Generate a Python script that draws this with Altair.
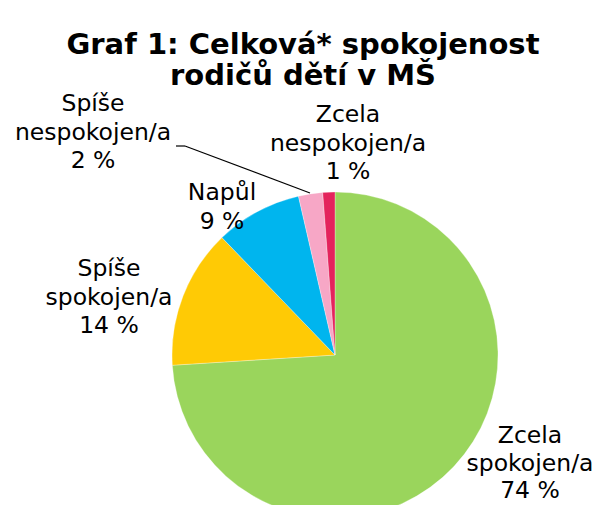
import altair as alt
import pandas as pd

# Data
kategorie = ["Zcela spokojen/a", "Spíše spokojen/a", "Napůl", "Spíše nespokojen/a", "Zcela nespokojen/a"]
podil = [74.0, 13.8, 8.6, 2.4, 1.2]
popisky_pct = ["74 %", "14 %", "9 %", "2 %", "1 %"]
barvy = ["#9AD55C", "#FFCA05", "#00B5EE", "#F7A7C6", "#E4235C"]

df = pd.DataFrame({"kategorie": kategorie, "podil": podil, "poradi": list(range(len(kategorie)))})

W, H = 589, 497
CX, CY, R = 327, 347, 163

pie = alt.Chart(df).mark_arc(radius=R, stroke="#ffffff", strokeWidth=0.3).encode(
    theta=alt.Theta("podil:Q", stack=True),
    order=alt.Order("poradi:Q"),
    color=alt.Color("kategorie:N", scale=alt.Scale(domain=kategorie, range=barvy), legend=None),
    x=alt.value(CX),
    y=alt.value(CY),
)

# label layout (annotation anchors: centre x, first line y, line height)
label_pos = {
    "Zcela spokojen/a": (522, 428, 27.5),
    "Spíše spokojen/a": (101, 261, 28.5),
    "Napůl": (214, 185, 28.5),
    "Spíše nespokojen/a": (85, 96, 28.5),
    "Zcela nespokojen/a": (340, 107, 28.5),
}

layers = [pie]
for k, p in zip(kategorie, popisky_pct):
    words = k.split(" ")
    txt = "\n".join(words + [p])
    lx, ly, lh = label_pos[k]
    layers.append(
        alt.Chart(pd.DataFrame({"t": [txt]})).mark_text(
            font="DejaVu Sans", fontSize=23.5, lineBreak="\n", lineHeight=lh,
            align="center", baseline="middle", color="#000000",
        ).encode(text="t:N", x=alt.value(lx), y=alt.value(ly))
    )

leader1 = alt.Chart(pd.DataFrame({"a": [0]})).mark_rule(color="#000000", strokeWidth=1.2).encode(
    x=alt.value(168), x2=alt.value(177), y=alt.value(138), y2=alt.value(138))
leader2 = alt.Chart(pd.DataFrame({"a": [0]})).mark_rule(color="#000000", strokeWidth=1.2).encode(
    x=alt.value(177), x2=alt.value(302), y=alt.value(138), y2=alt.value(185))
layers += [leader1, leader2]

title = alt.Chart(pd.DataFrame({"t": ["Graf 1: Celková* spokojenost\nrodičů dětí v MŠ"]})).mark_text(
    font="DejaVu Sans", fontSize=29, fontWeight="bold", lineBreak="\n", lineHeight=31,
    align="center", baseline="middle", color="#000000",
).encode(text="t:N", x=alt.value(295), y=alt.value(37))
layers.append(title)

chart = alt.layer(*layers).properties(
    width=W, height=H, padding=0, autosize=alt.AutoSizeParams(type="none"),
).configure(background="#ffffff").configure_view(stroke=None)

chart.save("out.html", embed_options={"renderer": "svg", "actions": False})
